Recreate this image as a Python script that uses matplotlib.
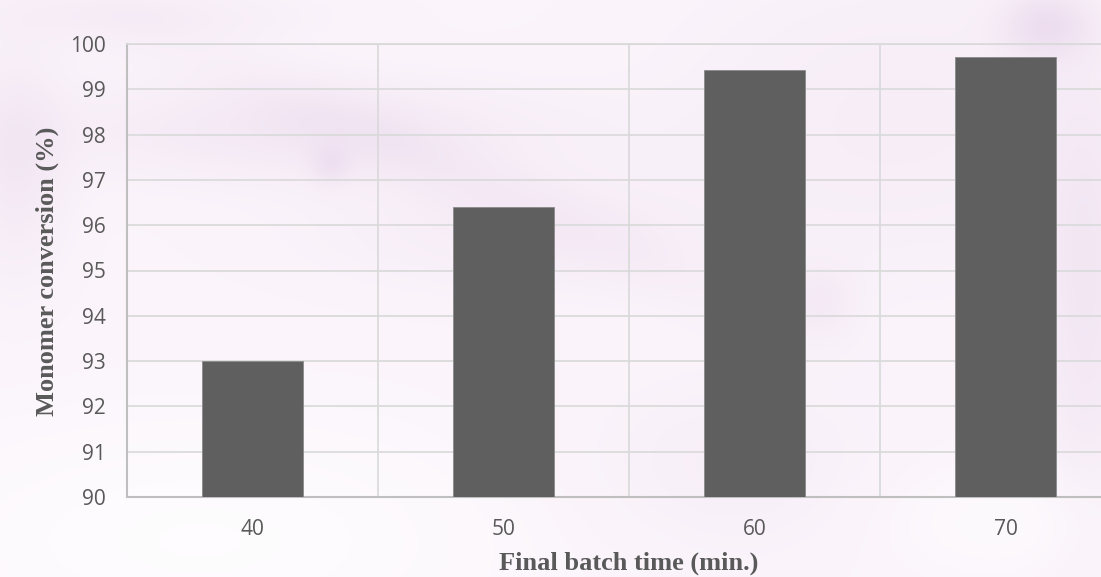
import numpy as np
import matplotlib
matplotlib.use("Agg")
import matplotlib.pyplot as plt

# Monomer conversion reached at each final batch time
batch_times = ["40", "50", "60", "70"]
conversion = [93.0, 96.4, 99.43, 99.71]
y_ticks = [90, 91, 92, 93, 94, 95, 96, 97, 98, 99, 100]

W, H = 1101, 577
fig = plt.figure(figsize=(W / 100, H / 100), dpi=100)

# soft lavender / pink wash behind the chart
bg = fig.add_axes([0, 0, 1, 1], zorder=0)
yy, xx = np.mgrid[0:H, 0:W]
base = np.array([0.985, 0.960, 0.985])
tint = np.array([0.84, 0.72, 0.86])
strength = np.zeros((H, W))
blobs = [  # (cx, cy, sx, sy, amp)
    (300, 130, 240, 50, 0.20), (520, 230, 200, 60, 0.12), (15, 160, 50, 110, 0.20),
    (1045, 25, 45, 35, 0.30), (900, 120, 220, 150, 0.12), (1085, 300, 50, 220, 0.22),
    (720, 470, 160, 90, 0.10), (140, 15, 160, 30, 0.12), (820, 300, 35, 35, 0.15),
    (330, 165, 20, 20, 0.18),
]
for cx, cy, sx, sy, amp in blobs:
    strength += amp * np.exp(-(((xx - cx) / sx) ** 2 + ((yy - cy) / sy) ** 2))
# diagonal streak running down to the right
d = ((yy - 60) - 0.45 * (xx - 200)) / 40.0
strength += 0.10 * np.exp(-d ** 2) * np.exp(-((xx - 450) / 300) ** 2)
strength = np.clip(strength, 0, 0.6)
img = base[None, None, :] * (1 - strength[..., None]) + tint[None, None, :] * strength[..., None]
# whiter patches at the bottom-left and lower right
white = 0.75 * np.exp(-(((xx - 200) / 330) ** 2 + ((yy - 540) / 130) ** 2))
white += 0.5 * np.exp(-(((xx - 1000) / 120) ** 2 + ((yy - 520) / 60) ** 2))
white = np.clip(white, 0, 0.85)
img = img * (1 - white[..., None]) + white[..., None]
bg.imshow(img, extent=[0, W, H, 0], aspect="auto")
bg.axis("off")

# plot area runs past the right edge of the figure
left, bottom, top = 127, 497, 44
cat_w = 251
ax = fig.add_axes([left / W, (H - bottom) / H, 4 * cat_w / W, (bottom - top) / H], zorder=1)
ax.patch.set_alpha(0)

x = np.arange(len(batch_times))
ax.bar(x, conversion, width=0.4, color="#5f5f5f",
       edgecolor="#8a8a8a", linewidth=0.6, zorder=3)
ax.set_ylim(90, 100)
ax.set_xlim(-0.5, len(batch_times) - 0.5)
ax.set_yticks(y_ticks)
ax.set_xticks(x)
ax.set_xticklabels(batch_times)

ax.grid(axis="y", color="#d9d9d9", linewidth=1.2, zorder=0)
for b in np.arange(0.5, len(batch_times) - 0.5, 1.0):
    ax.axvline(b, color="#d9d9d9", linewidth=1.2, zorder=0)
ax.set_axisbelow(True)

ax.spines["right"].set_visible(False)
ax.spines["top"].set_color("#d9d9d9")
ax.spines["top"].set_linewidth(1.2)
for s in ["left", "bottom"]:
    ax.spines[s].set_color("#bfbfbf")
    ax.spines[s].set_linewidth(1.5)

ax.tick_params(length=0, labelsize=15, labelcolor="#595959")
ax.tick_params(axis="y", pad=15)
ax.tick_params(axis="x", pad=16)
for lab in ax.get_xticklabels() + ax.get_yticklabels():
    lab.set_fontfamily("Open Sans")

label_font = dict(family="Liberation Serif", fontsize=19, fontweight="bold", color="#595959")
fig.text(47 / W, 1 - 271 / H, "Monomer conversion (%)", rotation=90,
         ha="center", va="center", **label_font)
fig.text(629 / W, 1 - 563 / H, "Final batch time (min.)", ha="center", va="center", **label_font)

fig.savefig("out.png", dpi=100)
